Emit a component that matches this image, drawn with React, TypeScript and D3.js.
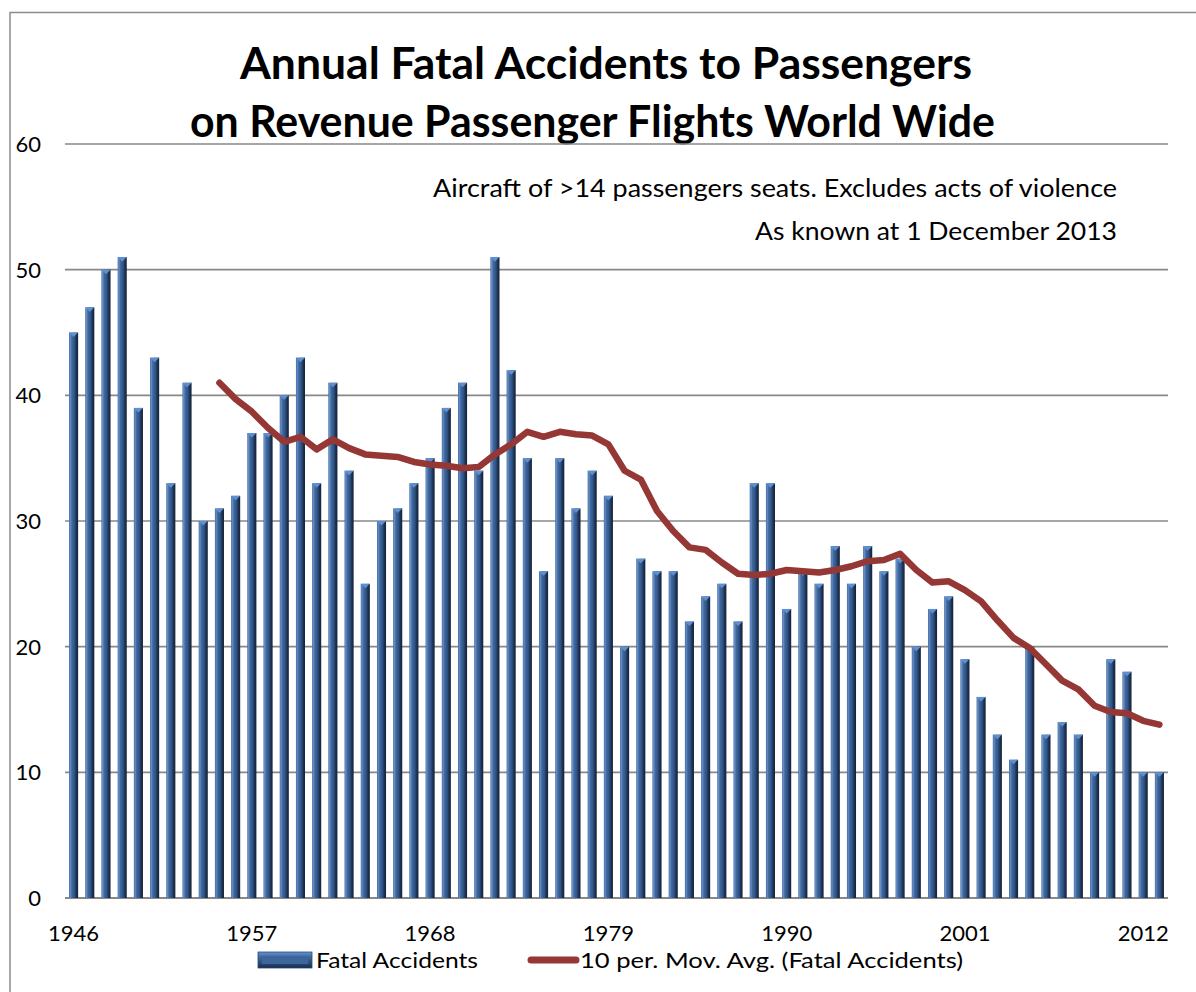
import React from "react";
import * as d3 from "d3";

// Years on the category axis
const years: number[] = [
  1946, 1947, 1948, 1949, 1950, 1951, 1952, 1953, 1954, 1955,
  1956, 1957, 1958, 1959, 1960, 1961, 1962, 1963, 1964, 1965,
  1966, 1967, 1968, 1969, 1970, 1971, 1972, 1973, 1974, 1975,
  1976, 1977, 1978, 1979, 1980, 1981, 1982, 1983, 1984, 1985,
  1986, 1987, 1988, 1989, 1990, 1991, 1992, 1993, 1994, 1995,
  1996, 1997, 1998, 1999, 2000, 2001, 2002, 2003, 2004, 2005,
  2006, 2007, 2008, 2009, 2010, 2011, 2012, 2013,
];

// Fatal accidents per year
const fatalAccidents: number[] = [
  45, 47, 50, 51, 39, 43, 33, 41, 30, 31,
  32, 37, 37, 40, 43, 33, 41, 34, 25, 30,
  31, 33, 35, 39, 41, 34, 51, 42, 35, 26,
  35, 31, 34, 32, 20, 27, 26, 26, 22, 24,
  25, 22, 33, 33, 23, 26, 25, 28, 25, 28,
  26, 27, 20, 23, 24, 19, 16, 13, 11, 20,
  13, 14, 13, 10, 19, 18, 10, 10,
];

// 10-period moving average (first nine years have no value)
const movingAvg: (number | null)[] = [
  null, null, null, null, null, null, null, null, null, 41.0,
  39.7, 38.7, 37.4, 36.3, 36.7, 35.7, 36.5, 35.8, 35.3, 35.2,
  35.1, 34.7, 34.5, 34.4, 34.2, 34.3, 35.3, 36.1, 37.1, 36.7,
  37.1, 36.9, 36.8, 36.1, 34.0, 33.3, 30.8, 29.2, 27.9, 27.7,
  26.7, 25.8, 25.7, 25.8, 26.1, 26.0, 25.9, 26.1, 26.4, 26.8,
  26.9, 27.4, 26.1, 25.1, 25.2, 24.5, 23.6, 22.1, 20.7, 19.9,
  18.6, 17.3, 16.6, 15.3, 14.8, 14.7, 14.1, 13.8,
];

const xTickYears: number[] = [1946, 1957, 1968, 1979, 1990, 2001, 2012];
const yTicks: number[] = [0, 10, 20, 30, 40, 50, 60];

const titleLines: string[] = [
  "Annual Fatal Accidents to Passengers",
  "on Revenue Passenger Flights World Wide",
];
const subtitleLines: string[] = [
  "Aircraft of >14 passengers seats. Excludes acts of violence",
  "As known at 1 December 2013",
];
const legendLabels: string[] = ["Fatal Accidents", "10 per. Mov. Avg. (Fatal Accidents)"];

const W = 1196;
const H = 992;
const FONT = "Lato, 'Open Sans', sans-serif";
const LINE_COLOR = "#953735";
const GRID_COLOR = "#888888";

export default function App() {
  const x = d3
    .scaleBand<number>()
    .domain(years)
    .range([65, 1168])
    .paddingInner(0.44)
    .paddingOuter(0.25);
  const y = d3.scaleLinear().domain([0, 60]).range([898, 144]);
  const bw = x.bandwidth();

  const pts = years
    .map((yr, i) => ({ yr, v: movingAvg[i] }))
    .filter((d) => d.v !== null) as { yr: number; v: number }[];
  const line = d3
    .line<{ yr: number; v: number }>()
    .x((d) => (x(d.yr) as number) + bw / 2)
    .y((d) => y(d.v));

  return (
    <svg
      width={W}
      height={H}
      style={{ position: "absolute", left: 0, top: 0, background: "#fff" }}
    >
      <defs>
        <linearGradient id="barGrad" x1="0" y1="0" x2="1" y2="0">
          <stop offset="0" stopColor="#3a5f92" />
          <stop offset="0.12" stopColor="#6792cc" />
          <stop offset="0.3" stopColor="#416aa1" />
          <stop offset="0.6" stopColor="#2f5282" />
          <stop offset="0.8" stopColor="#1d3252" />
          <stop offset="1" stopColor="#142238" />
        </linearGradient>
        <linearGradient id="legGrad" x1="0" y1="0" x2="0" y2="1">
          <stop offset="0" stopColor="#6792cc" />
          <stop offset="0.3" stopColor="#416aa1" />
          <stop offset="0.7" stopColor="#2a4a76" />
          <stop offset="1" stopColor="#172a45" />
        </linearGradient>
      </defs>

      <rect x={0} y={0} width={W} height={H} fill="#fff" />
      {/* chart frame */}
      <rect x={10} y={12.5} width={W + 20} height={H + 20} fill="none" stroke="#8c8c8c" strokeWidth={1.5} />

      {/* title */}
      <text x={240} y={79} fontFamily={FONT} fontWeight={700} fontSize={43} textLength={732} lengthAdjust="spacingAndGlyphs" fill="#000">
        {titleLines[0]}
      </text>
      <text x={190} y={137} fontFamily={FONT} fontWeight={700} fontSize={43} textLength={805} lengthAdjust="spacingAndGlyphs" fill="#000">
        {titleLines[1]}
      </text>

      {/* gridlines */}
      {yTicks.map((t) => (
        <line key={t} x1={65} x2={1168} y1={y(t)} y2={y(t)} stroke={GRID_COLOR} strokeWidth={t === 0 ? 2 : 1.6} />
      ))}

      {/* y axis labels */}
      {yTicks.map((t) => (
        <text key={t} x={41} y={y(t)} dy="0.36em" textAnchor="end" fontFamily={FONT} fontSize={22} fill="#000">
          {t}
        </text>
      ))}

      {/* subtitle */}
      <text x={1117} y={197} textAnchor="end" fontFamily={FONT} fontSize={25} textLength={684} lengthAdjust="spacingAndGlyphs" fill="#000">
        {subtitleLines[0]}
      </text>
      <text x={1117} y={240} textAnchor="end" fontFamily={FONT} fontSize={25} textLength={362} lengthAdjust="spacingAndGlyphs" fill="#000">
        {subtitleLines[1]}
      </text>

      {/* bars */}
      {years.map((yr, i) => {
        const bx = x(yr) as number;
        const top = y(fatalAccidents[i]);
        const bottom = y(0);
        return (
          <g key={yr}>
            <rect x={bx} y={top} width={bw} height={bottom - top} fill="url(#barGrad)" />
            <polygon
              points={`${bx},${top} ${bx + bw},${top} ${bx + bw / 2},${top + bw * 0.5}`}
              fill="#5f8fd0"
            />
          </g>
        );
      })}

      {/* moving average */}
      <path d={line(pts) ?? ""} fill="none" stroke={LINE_COLOR} strokeWidth={6.5} strokeLinejoin="round" strokeLinecap="round" />

      {/* x axis labels */}
      {xTickYears.map((yr) => (
        <text key={yr} x={(x(yr) as number) + bw / 2} y={941} textAnchor="middle" fontFamily={FONT} fontSize={22} fill="#000">
          {yr}
        </text>
      ))}

      {/* legend */}
      <rect x={258} y={952} width={54} height={16} fill="url(#legGrad)" stroke="#2a4a76" strokeWidth={0.8} />
      <rect x={262} y={956} width={46} height={8} fill="#3d659c" />
      <text x={316} y={968} fontFamily={FONT} fontSize={22} textLength={162} lengthAdjust="spacingAndGlyphs" fill="#000">
        {legendLabels[0]}
      </text>
      <line x1={531} x2={576} y1={960} y2={960} stroke={LINE_COLOR} strokeWidth={7} strokeLinecap="round" />
      <text x={580} y={968} fontFamily={FONT} fontSize={22} textLength={383} lengthAdjust="spacingAndGlyphs" fill="#000">
        {legendLabels[1]}
      </text>
    </svg>
  );
}
